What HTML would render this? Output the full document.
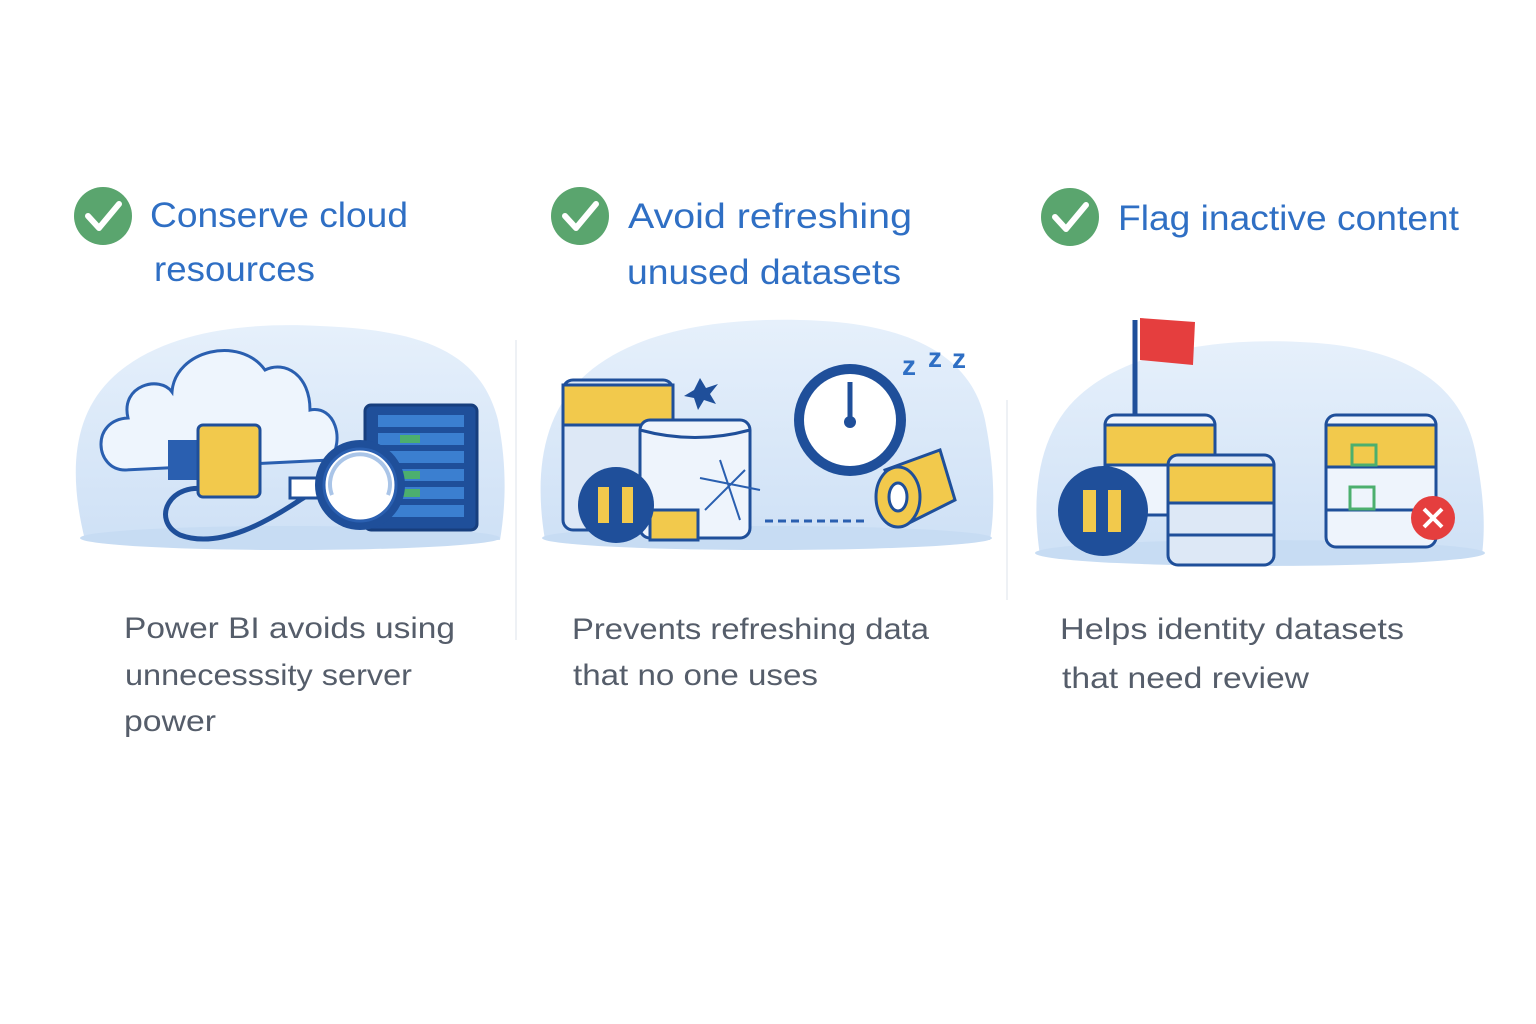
<!DOCTYPE html>
<html><head><meta charset="utf-8"><style>
html,body{margin:0;padding:0;background:#fff;}
body{width:1536px;height:1024px;overflow:hidden;position:relative;font-family:"Liberation Sans",sans-serif;}
svg{position:absolute;left:0;top:0;}
</style></head><body>
<svg width="1536" height="1024" viewBox="0 0 1536 1024" xmlns="http://www.w3.org/2000/svg">
<defs>
<linearGradient id="bg" x1="0" y1="0" x2="0" y2="1"><stop offset="0" stop-color="#e6f0fb"/><stop offset="1" stop-color="#cfe1f6"/></linearGradient>
</defs>
<line x1="516" y1="340" x2="516" y2="640" stroke="#eef1f5" stroke-width="2"/>
<line x1="1007" y1="400" x2="1007" y2="600" stroke="#eef1f5" stroke-width="2"/>

<g fill="#5aa56e"><circle cx="103" cy="216" r="29"/><circle cx="580" cy="216" r="29"/><circle cx="1070" cy="217" r="29"/></g>
<g fill="none" stroke="#fff" stroke-width="6" stroke-linecap="round" stroke-linejoin="round">
<path d="M88 216 L99 228 L119 204"/><path d="M565 216 L576 228 L596 204"/><path d="M1055 217 L1066 229 L1086 205"/></g>

<g font-size="35" fill="#2f6fc4" lengthAdjust="spacingAndGlyphs">
<text x="150" y="227" textLength="258" lengthAdjust="spacingAndGlyphs">Conserve cloud</text>
<text x="154" y="281" textLength="161" lengthAdjust="spacingAndGlyphs">resources</text>
<text x="628" y="228" textLength="284" lengthAdjust="spacingAndGlyphs">Avoid refreshing</text>
<text x="627" y="284" textLength="274" lengthAdjust="spacingAndGlyphs">unused datasets</text>
<text x="1118" y="230" textLength="341" lengthAdjust="spacingAndGlyphs">Flag inactive content</text>
</g>

<path d="M85 540 C70 480 70 420 110 380 C160 330 250 322 320 326 C420 330 480 350 498 420 C508 470 505 510 500 540 Z" fill="url(#bg)"/>
<ellipse cx="290" cy="538" rx="210" ry="12" fill="#c7dcf3"/>
<path d="M545 540 C535 480 540 420 580 380 C630 330 720 318 800 320 C900 322 970 350 985 420 C995 470 995 510 990 540 Z" fill="url(#bg)"/>
<ellipse cx="767" cy="538" rx="225" ry="12" fill="#c7dcf3"/>
<path d="M1040 555 C1030 490 1040 430 1080 395 C1130 350 1220 338 1300 342 C1400 346 1460 380 1475 450 C1485 500 1485 530 1482 555 Z" fill="url(#bg)"/>
<ellipse cx="1260" cy="553" rx="225" ry="13" fill="#c7dcf3"/>

<path d="M125 470 C95 470 90 420 128 418 C120 385 160 375 172 392 C175 350 240 335 265 370 C285 360 310 375 310 410 C335 405 345 440 330 460 Z" fill="#eef5fd" stroke="#2a5fb0" stroke-width="3"/>
<rect x="365" y="405" width="112" height="125" rx="6" fill="#1f4f9a" stroke="#173e7d" stroke-width="3"/>
<g fill="#3b7fd0"><rect x="378" y="415" width="86" height="12"/><rect x="378" y="433" width="86" height="12"/><rect x="378" y="451" width="86" height="12"/><rect x="378" y="469" width="86" height="12"/><rect x="378" y="487" width="86" height="12"/><rect x="378" y="505" width="86" height="12"/></g>
<g fill="#4caf6e"><rect x="400" y="435" width="20" height="8"/><rect x="400" y="471" width="20" height="8"/><rect x="400" y="489" width="20" height="8"/></g>
<path d="M210 490 C170 480 150 520 180 535 C220 550 270 520 300 500 L320 488" fill="none" stroke="#1f4f9a" stroke-width="5"/>
<rect x="168" y="440" width="35" height="40" fill="#2a5fb0"/>
<rect x="198" y="425" width="62" height="72" rx="5" fill="#f2c94c" stroke="#1f4f9a" stroke-width="3"/>
<rect x="290" y="478" width="28" height="20" fill="#fff" stroke="#1f4f9a" stroke-width="3"/>
<circle cx="360" cy="485" r="45" fill="#1f4f9a"/>
<circle cx="360" cy="485" r="36" fill="#fff" stroke="#2a5fb0" stroke-width="3"/>
<path d="M332 495 A30 30 0 1 1 388 495" fill="none" stroke="#aac5e8" stroke-width="4"/>

<g stroke="#1f4f9a" stroke-width="3">
<rect x="563" y="380" width="110" height="150" rx="10" fill="#dde8f6"/>
<rect x="563" y="385" width="110" height="40" fill="#f2c94c"/>
<rect x="640" y="420" width="110" height="118" rx="10" fill="#eef4fc"/>
<path d="M640 430 Q695 445 750 430" fill="none"/>
<rect x="650" y="510" width="48" height="30" fill="#f2c94c"/>
</g>
<circle cx="616" cy="505" r="38" fill="#1f4f9a"/>
<rect x="598" y="487" width="11" height="36" fill="#f2c94c"/><rect x="622" y="487" width="11" height="36" fill="#f2c94c"/>
<path d="M700 478 L760 490 M720 460 L740 520 M705 510 L745 470" stroke="#2a5fb0" stroke-width="2" fill="none"/>
<polygon points="700,378 706,388 718,384 710,394 716,404 704,400 698,410 694,398 684,396 694,390" fill="#1f4f9a"/>
<line x1="765" y1="521" x2="865" y2="521" stroke="#2a5fb0" stroke-width="3" stroke-dasharray="8 5"/>
<circle cx="850" cy="420" r="56" fill="#1f4f9a"/><circle cx="850" cy="420" r="46" fill="#fff"/>
<line x1="850" y1="420" x2="850" y2="382" stroke="#1f4f9a" stroke-width="5"/><circle cx="850" cy="422" r="6" fill="#1f4f9a"/>
<path d="M885 470 L940 450 L955 500 L905 525 Z" fill="#f2c94c" stroke="#1f4f9a" stroke-width="3"/>
<ellipse cx="898" cy="497" rx="22" ry="30" fill="#f2c94c" stroke="#1f4f9a" stroke-width="3"/>
<ellipse cx="898" cy="497" rx="9" ry="14" fill="#fff" stroke="#1f4f9a" stroke-width="3"/>
<g font-size="28" font-weight="bold" fill="#2f6fc4"><text x="902" y="375">z</text><text x="928" y="367">z</text><text x="952" y="368">z</text></g>

<line x1="1135" y1="320" x2="1135" y2="430" stroke="#1f4f9a" stroke-width="5"/>
<path d="M1140 318 L1195 322 L1193 365 L1140 360 Z" fill="#e53e3e"/>
<g stroke="#1f4f9a" stroke-width="3">
<rect x="1105" y="415" width="110" height="100" rx="10" fill="#eef4fc"/>
<rect x="1105" y="425" width="110" height="40" fill="#f2c94c"/>
<rect x="1168" y="455" width="106" height="110" rx="10" fill="#dde8f6"/>
<rect x="1168" y="465" width="106" height="38" fill="#f2c94c"/>
<line x1="1168" y1="535" x2="1274" y2="535"/>
<rect x="1326" y="415" width="110" height="132" rx="10" fill="#eef4fc"/>
<rect x="1326" y="425" width="110" height="42" fill="#f2c94c"/>
<line x1="1326" y1="510" x2="1436" y2="510"/>
</g>
<rect x="1352" y="445" width="24" height="20" fill="none" stroke="#4caf6e" stroke-width="3"/>
<rect x="1350" y="487" width="24" height="22" fill="none" stroke="#4caf6e" stroke-width="3"/>
<circle cx="1103" cy="511" r="45" fill="#1f4f9a"/>
<rect x="1083" y="490" width="13" height="42" fill="#f2c94c"/><rect x="1108" y="490" width="13" height="42" fill="#f2c94c"/>
<circle cx="1433" cy="518" r="22" fill="#e53e3e"/>
<path d="M1424 509 L1442 527 M1442 509 L1424 527" stroke="#fff" stroke-width="4"/>

<g font-size="30" fill="#555d6a">
<text x="124" y="638" textLength="331" lengthAdjust="spacingAndGlyphs">Power BI avoids using</text>
<text x="125" y="685" textLength="287" lengthAdjust="spacingAndGlyphs">unnecesssity server</text>
<text x="124" y="731" textLength="92" lengthAdjust="spacingAndGlyphs">power</text>
<text x="572" y="639" textLength="357" lengthAdjust="spacingAndGlyphs">Prevents refreshing data</text>
<text x="573" y="685" textLength="245" lengthAdjust="spacingAndGlyphs">that no one uses</text>
<text x="1060" y="639" textLength="344" lengthAdjust="spacingAndGlyphs">Helps identity datasets</text>
<text x="1062" y="688" textLength="247" lengthAdjust="spacingAndGlyphs">that need review</text>
</g>
</svg>
</body></html>
